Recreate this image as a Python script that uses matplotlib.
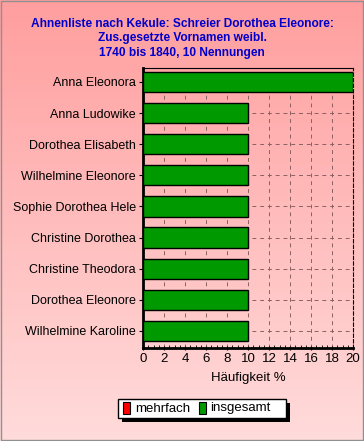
import numpy as np
import matplotlib.pyplot as plt
from matplotlib.patches import Rectangle

plt.rcParams['font.family'] = ['Liberation Sans', 'DejaVu Sans']

names = ['Anna Eleonora', 'Anna Ludowike', 'Dorothea Elisabeth', 'Wilhelmine Eleonore',
         'Sophie Dorothea Hele', 'Christine Dorothea', 'Christine Theodora',
         'Dorothea Eleonore', 'Wilhelmine Karoline']
insgesamt = [20, 10, 10, 10, 10, 10, 10, 10, 10]
xticks = [0, 2, 4, 6, 8, 10, 12, 14, 16, 18, 20]

fig = plt.figure(figsize=(3.64, 4.41), dpi=100)

# background gradient
bg = fig.add_axes([0, 0, 1, 1], zorder=-10)
grad = np.linspace(0, 1, 256).reshape(-1, 1)
top = np.array([1.0, 0.62, 0.62])
bot = np.array([1.0, 0.86, 0.86])
img = top + (bot - top) * grad[:, :, None]
bg.imshow(img, aspect='auto', extent=[0, 1, 0, 1])
bg.add_patch(Rectangle((0.002, 0.002), 0.995, 0.995, fill=False, ec='#909090', lw=1))
bg.set_xlim(0, 1); bg.set_ylim(0, 1)
bg.axis('off')

fig.text(0.5, 1-38.5/441, 'Ahnenliste nach Kekule: Schreier Dorothea Eleonore:\nZus.gesetzte Vornamen weibl.\n1740 bis 1840, 10 Nennungen',
         ha='center', va='center', color='#0000cc', fontsize=8.6, fontweight='bold', linespacing=1.25)

ax = fig.add_axes([143/364, 1-348/441, 210/364, 280/441])
ax.patch.set_alpha(0)
y = np.arange(len(names))
ax.barh(y, insgesamt, height=0.65, color='#009900', edgecolor='black', lw=1, zorder=3)
ax.set_xlim(0, 20)
ax.set_ylim(8.55, -0.45)
ax.set_yticks(y)
ax.set_yticklabels(names, fontsize=9)
ax.set_xticks(xticks)
ax.set_xticklabels([str(t) for t in xticks], fontsize=9.5)
ax.set_xticks(np.arange(0, 20.5, 0.5), minor=True)
ax.tick_params(axis='x', which='minor', length=2, direction='in')
ax.tick_params(axis='x', which='major', length=3, direction='inout', pad=2)
ax.tick_params(axis='y', length=3, pad=2)
ax.grid(True, ls=(0, (4, 4)), color='#8a6060', lw=0.7, zorder=1)
ax.set_xlabel('Häufigkeit %', fontsize=9.5, labelpad=5)
for s in ['left', 'bottom']:
    ax.spines[s].set_linewidth(2)
for s in ['top', 'right']:
    ax.spines[s].set_linewidth(0.8)
ax.spines['right'].set_linestyle((0, (3, 2)))

# legend with shadow
lx, ly, lw_, lh = 118/364, 1-418/441, 168/364, 19/441
bg.add_patch(Rectangle((lx+4/364, ly-4/441), lw_, lh, fc='black', ec='none'))
bg.add_patch(Rectangle((lx, ly), lw_, lh, fc='white', ec='black', lw=1))
bg.add_patch(Rectangle((lx+5/364, ly+4/441), 7/364, 12/441, fc='#ff0000', ec='black', lw=0.8))
bg.text(lx+17/364, ly+lh/2, 'mehrfach', fontsize=9.5, va='center')
bg.add_patch(Rectangle((lx+81/364, ly+4/441), 7/364, 12/441, fc='#009900', ec='black', lw=0.8))
bg.text(lx+92/364, ly+lh/2, 'insgesamt', fontsize=9.5, va='center')

fig.savefig('out.png', dpi=100)
